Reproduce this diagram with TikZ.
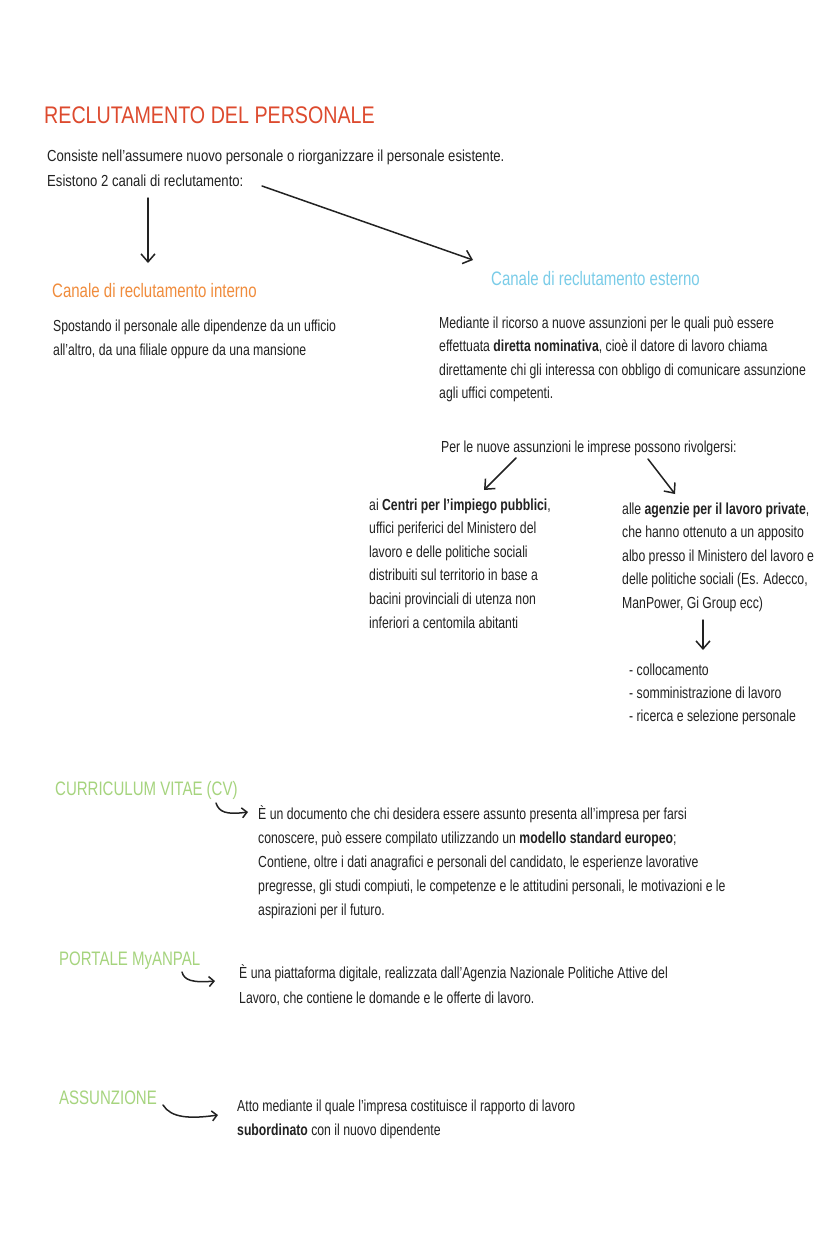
\documentclass[tikz,border=0pt]{standalone}
\usepackage{fontspec}
\setmainfont{Liberation Sans}
\newfontfamily\bodyfont[FakeStretch=0.765]{Liberation Sans}
\newfontfamily\introfont[FakeStretch=0.82]{Liberation Sans}
\newfontfamily\headfont[FakeStretch=0.77]{Liberation Sans}
\newfontfamily\titlefont[FakeStretch=0.82]{Liberation Sans}
\usetikzlibrary{arrows.meta}
\definecolor{ink}{HTML}{222222}
\definecolor{titlered}{HTML}{DD4A2E}
\definecolor{intorange}{HTML}{F08C3C}
\definecolor{extblue}{HTML}{7ACCE8}
\definecolor{lightgreen}{HTML}{A6D47E}
% multi-line nodes: anchor base = baseline of the LAST line
\tikzset{
  body/.style={anchor=base west, inner sep=0pt, align=left, text=ink,
    font=\bodyfont\fontsize{16}{23.5}\selectfont},
  bodyw/.style={body, font=\bodyfont\fontsize{16}{#1}\selectfont},
  heading/.style={anchor=base west, inner sep=0pt,
    font=\headfont\fontsize{19.5}{22}\selectfont},
  bigtitle/.style={anchor=base west, inner sep=0pt, text=titlered,
    font=\titlefont\fontsize{24}{28}\selectfont},
  arr/.style={draw=ink, line width=1.5pt, line cap=round,
    -{Straight Barb[length=8pt,width=14pt,line width=1.5pt]}},
  hook/.style={draw=ink, line width=1.5pt, line cap=round,
    -{Straight Barb[length=5pt,width=10pt,line width=1.5pt]}},
}
\begin{document}
\begin{tikzpicture}[x=1pt,y=-1pt]
\useasboundingbox[fill=white] (0,0) rectangle (828,1242);

\node[bigtitle] (title) at (44,123) {RECLUTAMENTO DEL PERSONALE};
\node[body, font=\introfont\fontsize{16}{25}\selectfont] (intro) at (47,186) {Consiste nell’assumere nuovo personale o riorganizzare il personale esistente.\\Esistono 2 canali di reclutamento:};

\node[heading, text=intorange] (interno) at (52,297) {Canale di reclutamento interno};
\node[bodyw=24] (internotxt) at (53,355) {Spostando il personale alle dipendenze da un ufficio\\all’altro, da una filiale oppure da una mansione};

\node[heading, text=extblue] (esterno) at (491,285) {Canale di reclutamento esterno};
\node[bodyw=23.4] (esternotxt) at (439,398.5) {Mediante il ricorso a nuove assunzioni per le quali può essere\\effettuata \textbf{diretta nominativa}, cioè il datore di lavoro chiama\\direttamente chi gli interessa con obbligo di comunicare assunzione\\agli uffici competenti.};

\node[body] (rivolgersi) at (441,452) {Per le nuove assunzioni le imprese possono rivolgersi:};

\node[bodyw=23.6] (centri) at (369,628) {ai \textbf{Centri per l’impiego pubblici},\\uffici periferici del Ministero del\\lavoro e delle politiche sociali\\distribuiti sul territorio in base a\\bacini provinciali di utenza non\\inferiori a centomila abitanti};

\node[bodyw=23.6] (agenzie) at (622,608.4) {alle \textbf{agenzie per il lavoro private},\\che hanno ottenuto a un apposito\\albo presso il Ministero del lavoro e\\delle politiche sociali (Es. Adecco,\\ManPower, Gi Group ecc)};

\node[bodyw=23.4] (servizi) at (629,721.8) {- collocamento\\- somministrazione di lavoro\\- ricerca e selezione personale};

\node[heading, text=lightgreen] (cv) at (55,795) {CURRICULUM VITAE (CV)};
\node[bodyw=24.2] (cvtxt) at (258,915.8) {È un documento che chi desidera essere assunto presenta all’impresa per farsi\\conoscere, può essere compilato utilizzando un \textbf{modello standard europeo};\\Contiene, oltre i dati anagrafici e personali del candidato, le esperienze lavorative\\pregresse, gli studi compiuti, le competenze e le attitudini personali, le motivazioni e le\\aspirazioni per il futuro.};

\node[heading, text=lightgreen] (myanpal) at (59,965) {PORTALE MyANPAL};
\node[bodyw=25] (myanpaltxt) at (239,1003) {È una piattaforma digitale, realizzata dall’Agenzia Nazionale Politiche Attive del\\Lavoro, che contiene le domande e le offerte di lavoro.};

\node[heading, text=lightgreen] (assunzione) at (59,1104) {ASSUNZIONE};
\node[bodyw=24] (assunzionetxt) at (237,1135) {Atto mediante il quale l’impresa costituisce il rapporto di lavoro\\\textbf{subordinato} con il nuovo dipendente};

% arrow end points
\coordinate (a1s) at (148,198);
\coordinate (a1e) at (148,263);
\coordinate (a2s) at (262,186);
\coordinate (a2e) at (473,260);
\coordinate (a3s) at (516,458);
\coordinate (a3e) at (484,490);
\coordinate (a4s) at (648,459);
\coordinate (a4e) at (675,494);
\coordinate (a5s) at (703,620);
\coordinate (a5e) at (703,650);
\coordinate (h1s) at (216,803);
\coordinate (h1e) at (248,812);
\coordinate (h2s) at (182,972);
\coordinate (h2e) at (215,981);
\coordinate (h3s) at (163,1105);
\coordinate (h3e) at (218,1115);

\draw[arr] (a1s) -- (a1e);
\draw[arr] (a2s) -- (a2e);
\draw[arr] (a3s) -- (a3e);
\draw[arr] (a4s) -- (a4e);
\draw[arr] (a5s) -- (a5e);
\draw[hook] (h1s) .. controls (219,812) and (226,815) .. (h1e);
\draw[hook] (h2s) .. controls (184,980) and (192,983) .. (h2e);
\draw[hook] (h3s) .. controls (171,1118) and (190,1119) .. (h3e);
\end{tikzpicture}
\end{document}
